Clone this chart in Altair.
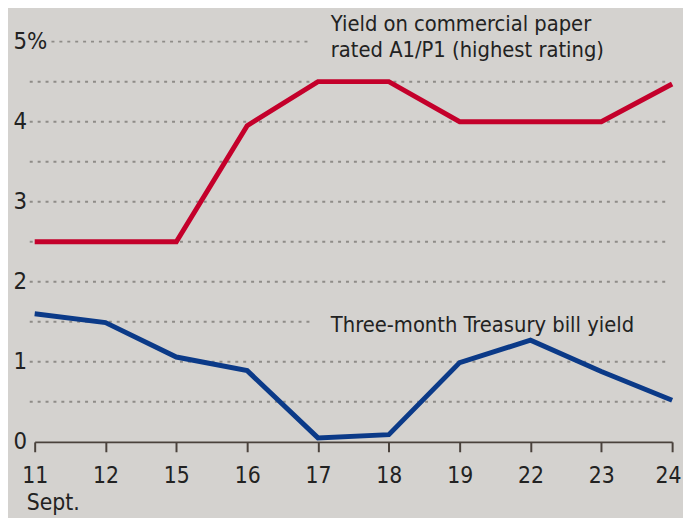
import altair as alt
import pandas as pd

days = ["11", "12", "15", "16", "17", "18", "19", "22", "23", "24"]
commercial_paper = [2.5, 2.5, 2.5, 3.95, 4.5, 4.5, 4.0, 4.0, 4.0, 4.47]
treasury_bill = [1.6, 1.49, 1.06, 0.89, 0.05, 0.09, 0.99, 1.27, 0.88, 0.52]
series_names = ["Commercial paper", "Treasury bill"]
series_colors = ["#c4002b", "#0b3a88"]
grid_values = [0.5, 1, 1.5, 2, 2.5, 3, 3.5, 4, 4.5, 5]
y_ticks = [0, 1, 2, 3, 4, 5]
cp_label = "Yield on commercial paper\nrated A1/P1 (highest rating)"
tb_label = "Three-month Treasury bill yield"

FONT = "DejaVu Sans Condensed"
BG = "#d4d2cf"

rows = []
for d, v in zip(days, commercial_paper):
    rows.append({"day": d, "value": v, "series": series_names[0]})
for d, v in zip(days, treasury_bill):
    rows.append({"day": d, "value": v, "series": series_names[1]})
df = pd.DataFrame(rows)

W, H = 645, 405
xscale = alt.Scale(domain=days, padding=0)
yscale = alt.Scale(domain=[0, 5], nice=False, zero=True)

yaxis = alt.Axis(title=None, values=y_ticks, domain=False, ticks=False, tickSize=0,
                 grid=False, labelAlign="left", labelPadding=22, labelFont=FONT,
                 labelFontSize=24, labelColor="#222222", labelBaseline="middle",
                 labelExpr="datum.value == 5 ? '5%' : datum.label")
xaxis = alt.Axis(title=None, labelAngle=0, domain=True, domainColor="#4a423c",
                 domainWidth=2, ticks=True, tickColor="#4a423c", tickWidth=2,
                 tickSize=10, labelPadding=13, labelFont=FONT, labelFontSize=23,
                 labelColor="#222222", grid=False,
                 labelAlign={"condition": {"test": "datum.label == '24'", "value": "right"},
                             "value": "center"},
                 labelOffset={"condition": {"test": "datum.label == '24'", "value": 9},
                              "value": 0})

grid_df = pd.DataFrame({"g": grid_values})
grid_base = alt.Chart(grid_df).mark_rule(color="#8e8c88", strokeWidth=2, strokeDash=[3, 5])
grid_full = grid_base.transform_filter("datum.g != 5 && datum.g != 1.5").encode(
    y=alt.Y("g:Q", scale=yscale, axis=yaxis), x=alt.value(-5), x2=alt.value(643))
grid_mid = grid_base.transform_filter("datum.g == 1.5").encode(
    y=alt.Y("g:Q", scale=yscale, axis=yaxis), x=alt.value(-5), x2=alt.value(282))
grid_top = grid_base.transform_filter("datum.g == 5").encode(
    y=alt.Y("g:Q", scale=yscale, axis=yaxis), x=alt.value(17), x2=alt.value(278))

lines = alt.Chart(df).mark_line(strokeWidth=5, strokeCap="butt", strokeJoin="miter").encode(
    x=alt.X("day:O", scale=xscale, sort=days, axis=xaxis),
    y=alt.Y("value:Q", scale=yscale, axis=yaxis),
    color=alt.Color("series:N", scale=alt.Scale(domain=series_names, range=series_colors),
                    legend=None),
    detail="series:N",
)

def annotation(day, value, label, dy):
    return alt.Chart(pd.DataFrame({"day": [day], "value": [value], "label": [label]})).mark_text(
        align="left", baseline="middle", font=FONT, fontSize=22, color="#222222",
        lineBreak="\n", lineHeight=27, dx=13, dy=dy,
    ).encode(
        x=alt.X("day:O", scale=xscale, sort=days, axis=xaxis),
        y=alt.Y("value:Q", scale=yscale, axis=yaxis),
        text="label:N",
    )

ann_cp = annotation("17", 5.0, cp_label, -18)
ann_tb = annotation("17", 1.5, tb_label, 3)

sept = alt.Chart(pd.DataFrame({"day": ["11"], "t": ["Sept."]})).mark_text(
    align="left", baseline="alphabetic", font=FONT, fontSize=23, color="#222222", dx=-8,
).encode(
    x=alt.X("day:O", scale=xscale, sort=days, axis=xaxis),
    y=alt.value(H + 69),
    text="t:N",
)

chart = alt.layer(grid_full, grid_mid, grid_top, lines, ann_cp, ann_tb, sept).properties(
    width=W, height=H,
    autosize=alt.AutoSizeParams(type="none"),
    padding={"left": 27, "top": 31, "right": 11, "bottom": 74},
    background=BG,
).configure_view(stroke=None)

chart.save("out.html", embed_options={"renderer": "svg", "actions": False})
